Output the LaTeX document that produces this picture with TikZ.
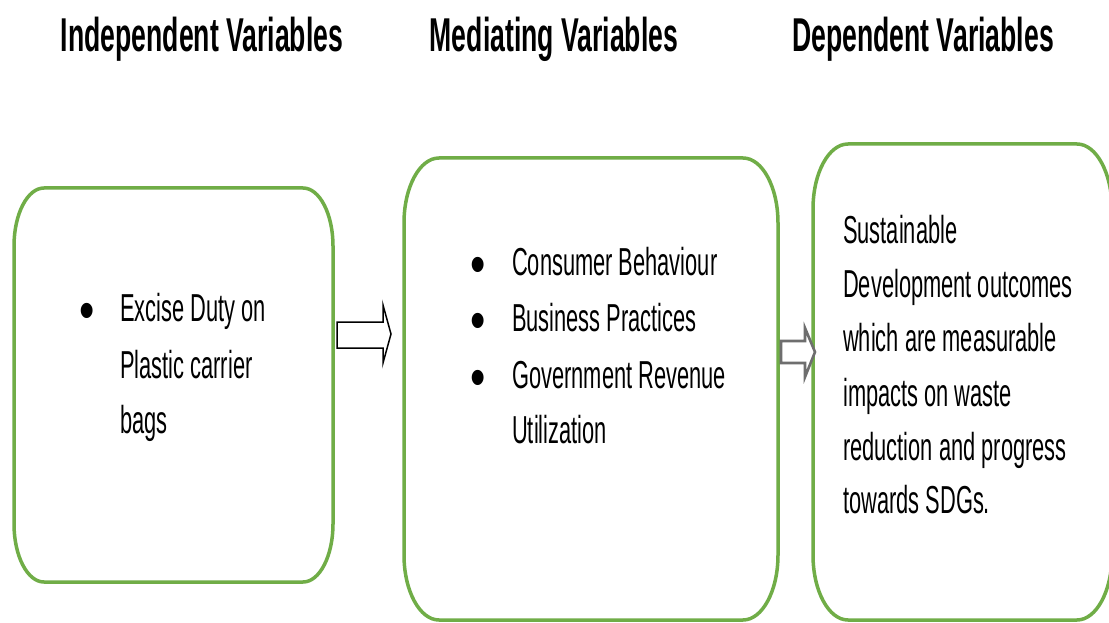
\documentclass[tikz,border=0pt]{standalone}
\usepackage{fontspec}
\setmainfont{Liberation Sans}[FakeStretch=0.56]
\newfontfamily\bulletfont{Liberation Sans}[FakeStretch=0.78]
\definecolor{boxgreen}{HTML}{70AD47}
\definecolor{arrowgray}{HTML}{6E6E6E}

% rounded box with elliptical corners: left, top, right, bottom, x radius, y radius
\newcommand\greenbox[6]{%
  \draw[frame] ({#1+#5},#2) -- ({#3-#5},#2)
    arc[start angle=90,end angle=0,x radius=#5pt,y radius=#6pt]
    -- (#3,{#4-#6})
    arc[start angle=0,end angle=-90,x radius=#5pt,y radius=#6pt]
    -- ({#1+#5},#4)
    arc[start angle=-90,end angle=-180,x radius=#5pt,y radius=#6pt]
    -- (#1,{#2+#6})
    arc[start angle=180,end angle=90,x radius=#5pt,y radius=#6pt]
    -- cycle;}

\begin{document}
\begin{tikzpicture}[x=1pt,y=-1pt,
  frame/.style={draw=boxgreen,line width=3.5pt,line join=round},
  head/.style={font=\fontsize{47.5}{50}\selectfont\bfseries,anchor=base,inner sep=0pt},
  body/.style={font=\fontsize{39}{45}\selectfont,anchor=base west,inner sep=0pt},
  bul/.style={font=\bulletfont\fontsize{56}{60}\selectfont,anchor=base,inner sep=0pt},
  blockarrow/.style={draw=black,line width=1.5pt,fill=white,line join=miter},
  greyarrow/.style={draw=arrowgray,line width=2.6pt,fill=white,line join=miter}]

\fill[white] (0,0) rectangle (1109,623);
\useasboundingbox (0,0) rectangle (1109,623);

% column headings
\node[head] (hi) at (202,52) {Independent Variables};
\node[head] (hm) at (554,52) {Mediating Variables};
\node[head] (hd) at (923,52) {Dependent Variables};

% the three frames
\greenbox{14}{188}{333}{582}{30}{58}
\greenbox{404}{158}{778}{620}{35}{65}
\greenbox{813}{144}{1112}{620}{35}{65}

% independent variable
\node[bul]  (b1) at (87,329) {•};
\node[body] (i1) at (120,321) {Excise Duty on};
\node[body] (i2) at (120,378) {Plastic carrier};
\node[body] (i3) at (120,433) {bags};

% mediating variables
\node[bul]  (b2) at (478,283) {•};
\node[body] (m1) at (512,275) {Consumer Behaviour};
\node[bul]  (b3) at (478,339) {•};
\node[body] (m2) at (512,331) {Business Practices};
\node[bul]  (b4) at (478,396) {•};
\node[body] (m3) at (512,388) {Government Revenue};
\node[body] (m4) at (512,443) {Utilization};

% dependent variable
\node[body] (d1) at (843,243) {Sustainable};
\node[body] (d2) at (843,297) {Development outcomes};
\node[body] (d3) at (843,351) {which are measurable};
\node[body] (d4) at (843,406) {impacts on waste};
\node[body] (d5) at (843,460) {reduction and progress};
\node[body] (d6) at (843,513) {towards SDGs.};

% block arrows between the frames
\draw[blockarrow] (337,322) -- (383,322) -- (383,305) -- (391,334)
  -- (383,363) -- (383,348) -- (337,348) -- cycle;
\draw[greyarrow] (781,341) -- (805,341) -- (805,328) -- (815,352)
  -- (805,377) -- (805,363) -- (781,363) -- cycle;
\end{tikzpicture}
\end{document}
